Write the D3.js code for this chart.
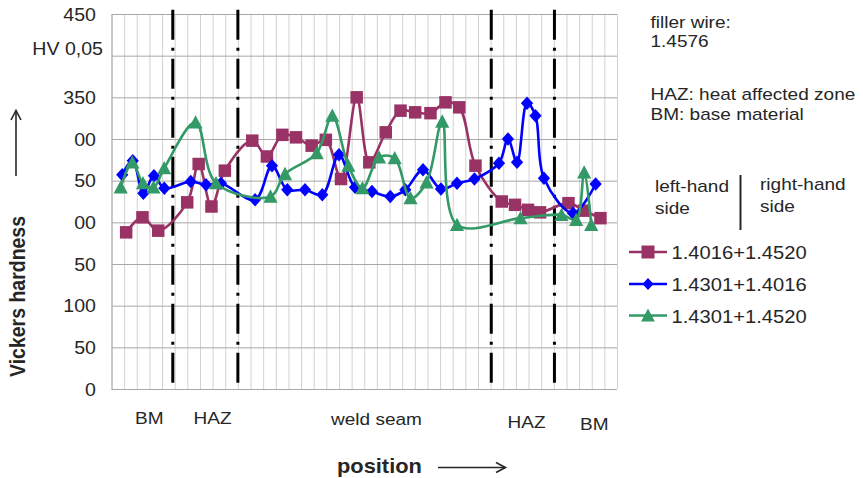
<!DOCTYPE html>
<html>
<head>
<meta charset="utf-8">
<script src="https://cdn.jsdelivr.net/npm/d3@7"></script>
<style>
  html, body { margin: 0; padding: 0; background: #fff; }
  svg { display: block; font-family: "Liberation Sans", Arial, sans-serif; }
</style>
</head>
<body>
<svg id="chart" width="863" height="478"></svg>
<script>
// Vickers hardness (HV 0,05) across the welded joint, three material pairings.
const yTickValues = [0, 50, 100, 150, 200, 250, 300, 350, 400, 450];
const yTickLabels = ["0", "50", "100", "50", "00", "50", "00", "350", "HV 0,05", "450"];

const seriesNames = ["1.4016+1.4520", "1.4301+1.4016", "1.4301+1.4520"];

// measuring position (grid units) and hardness for each pairing
const posMagenta = [1.16, 2.45, 3.70, 5.99, 6.90, 7.91, 8.97, 11.14, 12.30, 13.52, 14.60, 15.84, 16.96, 18.16, 19.40, 20.40, 21.70, 22.87, 24.03, 25.24, 26.43, 27.52, 28.80, 30.88, 31.93, 32.96, 33.91, 36.16, 37.40, 38.69];
const hvMagenta  = [188, 206, 190, 224, 270, 219, 262, 298, 279, 305, 302, 292, 299, 252, 350, 272, 308, 334, 332, 331, 344, 338, 268, 225, 221, 215, 212, 223, 214, 205];

const posBlue = [0.85, 1.68, 2.52, 3.36, 4.18, 6.27, 7.48, 8.66, 11.36, 12.70, 13.91, 15.31, 16.68, 18.00, 19.27, 20.61, 22.06, 23.25, 24.65, 26.07, 27.34, 28.72, 30.66, 31.37, 32.09, 32.88, 33.55, 34.22, 36.52, 38.31];
const hvBlue  = [257, 274, 235, 256, 241, 249, 245, 247, 227, 268, 239, 239, 233, 281, 242, 237, 231, 239, 263, 240, 247, 252, 271, 300, 272, 343, 328, 253, 211, 246];

const posGreen = [0.73, 1.65, 2.49, 3.32, 4.17, 6.65, 8.27, 12.58, 13.73, 16.24, 17.47, 18.74, 19.86, 21.17, 22.41, 23.66, 24.93, 26.17, 27.34, 32.36, 35.61, 36.77, 37.40, 37.96];
const hvGreen  = [242, 272, 247, 242, 265, 320, 247, 231, 258, 283, 328, 268, 241, 278, 277, 229, 248, 321, 197, 205, 209, 203, 260, 197];

// zone boundaries along the position axis and zone names
const zoneBounds = [4.85, 10.0, 30.05, 35.05];
const zoneNames = ["BM", "HAZ", "weld seam", "HAZ", "BM"];

// ---------------------------------------------------------------------------
const svg = d3.select("#chart");
const textColor = "#262626";
const stretch = 1.12;

const x = d3.scaleLinear().domain([0, 40]).range([111.5, 617]);
const y = d3.scaleLinear().domain([0, 450]).range([389, 14]);

// helper: text with a slightly widened face
function addText(px, py, str, opt = {}) {
  return svg.append("text")
    .attr("transform", `translate(${px},${py}) scale(${opt.sx || stretch},1)` + (opt.rot ? ` rotate(${opt.rot})` : ""))
    .attr("text-anchor", opt.anchor || "start")
    .attr("font-size", opt.size || 17)
    .attr("font-weight", opt.bold ? "bold" : "normal")
    .attr("fill", textColor)
    .text(str);
}

// vertical grid
svg.append("g")
  .attr("transform", `translate(0,${y(0)})`)
  .call(d3.axisBottom(x).ticks(40).tickSize(-(y(0) - y(450))).tickFormat(""))
  .call(g => g.select(".domain").remove())
  .call(g => g.selectAll("line").attr("stroke", "#d2d2d2").attr("stroke-width", 1));

// horizontal grid
svg.append("g")
  .attr("transform", `translate(${x(0)},0)`)
  .call(d3.axisLeft(y).tickValues(yTickValues).tickSize(-(x(40) - x(0))).tickFormat(""))
  .call(g => g.select(".domain").attr("stroke", "#a8a8a8"))
  .call(g => g.selectAll("line").attr("stroke", "#a8a8a8").attr("stroke-width", 1));

// y tick labels
yTickValues.forEach((v, i) => {
  const isUnit = yTickLabels[i].startsWith("HV");
  addText(isUnit ? 103 : 96, y(v) + (isUnit ? -1 : 6.5), yTickLabels[i], { anchor: "end", size: 17.5 });
});

// zone boundary lines (dash-dot)
svg.append("g").selectAll("line")
  .data(zoneBounds)
  .join("line")
  .attr("x1", d => x(d)).attr("x2", d => x(d))
  .attr("y1", y(455)).attr("y2", y(0))
  .attr("stroke", "#000")
  .attr("stroke-width", 3)
  .attr("stroke-dasharray", "30,8,3,8");

// series
const squareSym = { draw(ctx, s) { const h = Math.sqrt(s) / 2; ctx.rect(-h, -h, 2 * h, 2 * h); } };
const diamondSym = { draw(ctx, s) { const w = Math.sqrt(s) * 0.5, h = Math.sqrt(s) * 0.55;
  ctx.moveTo(0, -h); ctx.lineTo(w, 0); ctx.lineTo(0, h); ctx.lineTo(-w, 0); ctx.closePath(); } };
const triangleSym = { draw(ctx, s) { const w = Math.sqrt(s) * 0.55, h = Math.sqrt(s) * 0.48;
  ctx.moveTo(0, -h - 1); ctx.lineTo(w, h); ctx.lineTo(-w, h); ctx.closePath(); } };

const series = [
  { name: seriesNames[0], pos: posMagenta, hv: hvMagenta, color: "#993366", sym: squareSym, size: 156, legSize: 169 },
  { name: seriesNames[1], pos: posBlue, hv: hvBlue, color: "#0000ff", sym: diamondSym, size: 150, legSize: 121 },
  { name: seriesNames[2], pos: posGreen, hv: hvGreen, color: "#339966", sym: triangleSym, size: 165, legSize: 155 }
];

const line = d3.line().curve(d3.curveCatmullRom.alpha(0.5)).x(d => x(d[0])).y(d => y(d[1]));

series.forEach(s => {
  const pts = s.pos.map((p, i) => [p, s.hv[i]]);
  const g = svg.append("g");
  g.append("path").attr("d", line(pts)).attr("fill", "none")
    .attr("stroke", s.color).attr("stroke-width", 2.6).attr("stroke-linejoin", "round");
  g.selectAll("path.m").data(pts).join("path").attr("class", "m")
    .attr("transform", d => `translate(${x(d[0])},${y(d[1])})`)
    .attr("d", d3.symbol().type(s.sym).size(s.size))
    .attr("fill", s.color);
});

// zone labels below the axis
const zoneLabelX = [135, 193.5, 331, 507.5, 580];
const zoneLabelY = [424, 424, 425, 428, 430];
zoneNames.forEach((n, i) => addText(zoneLabelX[i], zoneLabelY[i], n, { size: 17 }));

// axis titles
addText(337, 472.5, "position", { size: 19.5, bold: true });
addText(25, 377, "Vickers hardness", { size: 19.5, bold: true, rot: -90, sx: 1.12 });

// arrows
const arrows = svg.append("g").attr("stroke", textColor).attr("stroke-width", 1.6).attr("fill", "none");
arrows.append("line").attr("x1", 438).attr("y1", 467.5).attr("x2", 505).attr("y2", 467.5);
arrows.append("path").attr("d", "M496,462.5 L505.5,467.5 L496,472.5");
arrows.append("line").attr("x1", 16).attr("y1", 176).attr("x2", 16).attr("y2", 111);
arrows.append("path").attr("d", "M11,120 L16,110.5 L21,120");

// notes
addText(650.5, 28, "filler wire:", { size: 17 });
addText(650.5, 47, "1.4576", { size: 17 });
addText(650.5, 100, "HAZ: heat affected zone", { size: 17 });
addText(650.5, 119.5, "BM: base material", { size: 17 });

// legend header
addText(655, 191.5, "left-hand", { size: 17 });
addText(655, 213.5, "side", { size: 17 });
addText(760, 189.5, "right-hand", { size: 17 });
addText(760, 211.5, "side", { size: 17 });
svg.append("line").attr("x1", 740.5).attr("x2", 740.5).attr("y1", 175).attr("y2", 230)
  .attr("stroke", textColor).attr("stroke-width", 2);

// legend entries
const legendY = [252, 284, 315.5];
series.forEach((s, i) => {
  const g = svg.append("g").attr("transform", `translate(0,${legendY[i]})`);
  g.append("line").attr("x1", 629).attr("x2", 667).attr("y1", 0).attr("y2", 0)
    .attr("stroke", s.color).attr("stroke-width", 2.5);
  g.append("path").attr("transform", "translate(648,0)")
    .attr("d", d3.symbol().type(s.sym).size(s.legSize)).attr("fill", s.color);
  g.append("text")
    .attr("transform", `translate(671.5,7) scale(${stretch},1)`)
    .attr("font-size", 18).attr("fill", textColor).text(s.name);
});
</script>
</body>
</html>
